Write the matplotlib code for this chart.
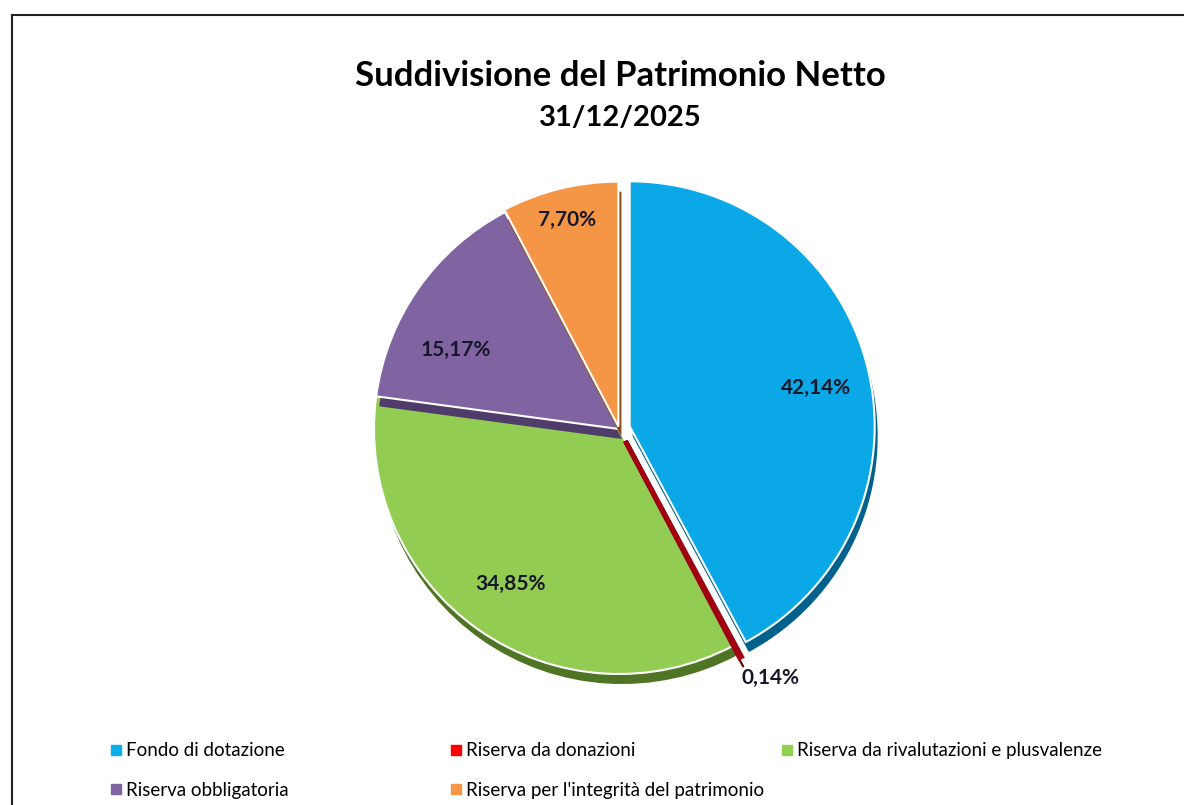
import matplotlib
matplotlib.use("Agg")
import matplotlib.pyplot as plt
from matplotlib.lines import Line2D
from matplotlib.patches import Wedge
import numpy as np

title = "Suddivisione del Patrimonio Netto"
subtitle = "31/12/2025"
categories = ["Fondo di dotazione", "Riserva da donazioni",
              "Riserva da rivalutazioni e plusvalenze",
              "Riserva obbligatoria", "Riserva per l'integrità del patrimonio"]
values = [42.14, 0.14, 34.85, 15.17, 7.70]
colors = ["#0AAEEA", "#FF0000", "#92D050", "#8064A2", "#F79646"]
face_colors = ["#0AA8E6", "#A00010", "#92CC52", "#8064A2", "#F59646"]
shadow_colors = ["#00618C", "#5A0000", "#4E7424", "#4F3C6B", "#8A4A16"]
explode = [0.045, 0.055, 0.0, 0.0, 0.01]
label_dist = [0.82, 1.19, 0.77, 0.74, 0.88]
label_turn = [-2.3, 3.2, 0.0, 9.0, 0.0]

plt.rcParams['font.family'] = ['Lato', 'DejaVu Sans']

W, H = 1184, 805
fig = plt.figure(figsize=(W / 100, H / 100), dpi=100)
ax = fig.add_axes([0, 0, 1, 1])

cx, cy, R = 619, H - 429, 245
total = sum(values)
start = 90.0
angles = []
for v in values:
    a1 = start
    a2 = start - v / total * 360
    angles.append((a2, a1))
    start = a2

sh_dx, sh_dy = 3, -10
for i in range(len(values)):
    t1, t2 = angles[i]
    mid = np.deg2rad((t1 + t2) / 2)
    ox = explode[i] * R * np.cos(mid)
    oy = explode[i] * R * np.sin(mid)
    base_z = 2 + 2 * i
    lw = 1.5
    ec = 'white'
    if i == 1:
        ec = face_colors[i]
        lw = 3.5
        base_z = 15
    sw = Wedge((cx + ox + sh_dx, cy + oy + sh_dy), R, t1, t2,
               facecolor=shadow_colors[i], edgecolor='none', zorder=base_z)
    ax.add_patch(sw)
    w = Wedge((cx + ox, cy + oy), R, t1, t2, facecolor=face_colors[i],
              edgecolor=ec, linewidth=lw, zorder=base_z + 1)
    ax.add_patch(w)
    la = np.deg2rad((t1 + t2) / 2 + label_turn[i])
    lx = cx + label_dist[i] * R * np.cos(la)
    ly = cy + label_dist[i] * R * np.sin(la)
    txt = f"{values[i]:.2f}%".replace('.', ',')
    ax.text(lx, ly, txt, ha='center', va='center', fontsize=15,
            fontweight='bold', color='#16182A', zorder=20)

ax.set_xlim(0, W)
ax.set_ylim(0, H)
ax.set_aspect('auto')
ax.axis('off')

fig.text(620 / W, 1 - 76 / H, title, ha='center', va='center',
         fontsize=25, fontweight='bold', color='black')
fig.text(620 / W, 1 - 118 / H, subtitle, ha='center', va='center',
         fontsize=21, fontweight='bold', color='black')

# frame
fig.add_artist(Line2D([12 / W, 12 / W], [1 - 15 / H, 0], color='#222222', lw=1.5,
                      transform=fig.transFigure))
fig.add_artist(Line2D([12 / W, 1], [1 - 15 / H, 1 - 15 / H], color='#222222', lw=1.5,
                      transform=fig.transFigure))

# legend in three columns
cols = [[0, 3], [1, 4], [2]]
col_x = [102, 442, 773]
for cidx, idxs in enumerate(cols):
    handles = [Line2D([], [], marker='s', linestyle='', color=colors[i], markersize=7)
               for i in idxs]
    labels = [categories[i] for i in idxs]
    fig.legend(handles, labels, loc='upper left',
               bbox_to_anchor=(col_x[cidx] / W, 1 - 733 / H),
               frameon=False, borderpad=0, handlelength=0.5, handletextpad=0.3,
               labelspacing=1.2, fontsize=13.5)

fig.savefig("out.png", dpi=100)
